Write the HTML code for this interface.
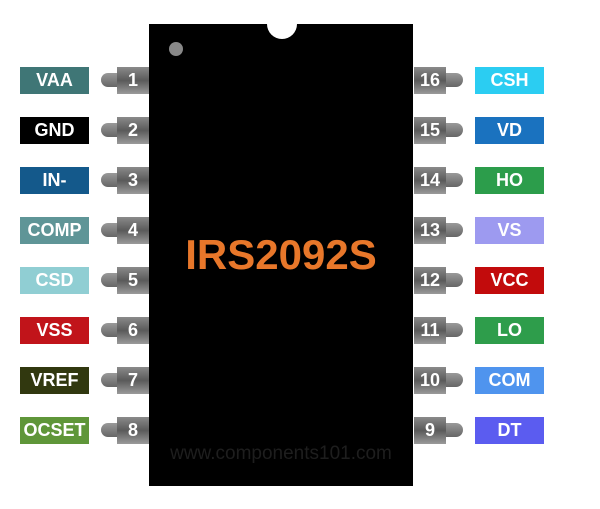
<!DOCTYPE html>
<html><head><meta charset="utf-8"><style>
body{margin:0;width:600px;height:509px;background:#fff;position:relative;overflow:hidden;font-family:"Liberation Sans",Arial,sans-serif;font-weight:bold}
.chip{position:absolute;left:149px;top:24px;width:264px;height:462px;background:#000}
.notch{position:absolute;left:267px;top:9px;width:30px;height:30px;border-radius:50%;background:#fff}
.dot{position:absolute;left:169px;top:42px;width:14px;height:14px;border-radius:50%;background:#888}
.lab{position:absolute;width:69px;height:27px;color:#fff;font-size:18px;line-height:27px;text-align:center}
.l{left:20px}.r{left:475px}
.pw{position:absolute;width:32px;height:27px;color:#fff;font-size:18px;line-height:27px;text-align:center}
.pl{left:117px;background:linear-gradient(#8a8a8a,#5a5a5a 50%,#9a9a9a)}
.pr{left:414px;background:linear-gradient(#8a8a8a,#5a5a5a 50%,#9a9a9a)}
.tab{position:absolute;width:17px;height:14px;background:linear-gradient(#999,#666)}
.tl{left:101px;border-radius:7px 0 0 7px}
.tr{left:446px;border-radius:0 7px 7px 0}
.title{position:absolute;left:149px;width:264px;top:231px;text-align:center;color:#e8772a;font-size:42px;line-height:48px}
.wm{position:absolute;left:149px;width:264px;top:443px;text-align:center;color:#1e1e1e;font-size:19px;font-weight:normal}
</style></head><body>
<div class="chip"></div><div class="notch"></div><div class="dot"></div>
<div class="title">IRS2092S</div>
<div class="wm">www.components101.com</div>

<div class="lab l" style="top:67px;background:#3f7676">VAA</div>
<div class="lab l" style="top:117px;background:#000">GND</div>
<div class="lab l" style="top:167px;background:#14598b">IN-</div>
<div class="lab l" style="top:217px;background:#5f9597">COMP</div>
<div class="lab l" style="top:267px;background:#90ced3">CSD</div>
<div class="lab l" style="top:317px;background:#c1141a">VSS</div>
<div class="lab l" style="top:367px;background:#31380f">VREF</div>
<div class="lab l" style="top:417px;background:#5f9639">OCSET</div>

<div class="tab tl" style="top:73px"></div><div class="pw pl" style="top:67px">1</div>
<div class="tab tl" style="top:123px"></div><div class="pw pl" style="top:117px">2</div>
<div class="tab tl" style="top:173px"></div><div class="pw pl" style="top:167px">3</div>
<div class="tab tl" style="top:223px"></div><div class="pw pl" style="top:217px">4</div>
<div class="tab tl" style="top:273px"></div><div class="pw pl" style="top:267px">5</div>
<div class="tab tl" style="top:323px"></div><div class="pw pl" style="top:317px">6</div>
<div class="tab tl" style="top:373px"></div><div class="pw pl" style="top:367px">7</div>
<div class="tab tl" style="top:423px"></div><div class="pw pl" style="top:417px">8</div>

<div class="tab tr" style="top:73px"></div><div class="pw pr" style="top:67px">16</div>
<div class="tab tr" style="top:123px"></div><div class="pw pr" style="top:117px">15</div>
<div class="tab tr" style="top:173px"></div><div class="pw pr" style="top:167px">14</div>
<div class="tab tr" style="top:223px"></div><div class="pw pr" style="top:217px">13</div>
<div class="tab tr" style="top:273px"></div><div class="pw pr" style="top:267px">12</div>
<div class="tab tr" style="top:323px"></div><div class="pw pr" style="top:317px">11</div>
<div class="tab tr" style="top:373px"></div><div class="pw pr" style="top:367px">10</div>
<div class="tab tr" style="top:423px"></div><div class="pw pr" style="top:417px">9</div>

<div class="lab r" style="top:67px;background:#2bcdf2">CSH</div>
<div class="lab r" style="top:117px;background:#1a72bf">VD</div>
<div class="lab r" style="top:167px;background:#2c9d4b">HO</div>
<div class="lab r" style="top:217px;background:#9d9af0">VS</div>
<div class="lab r" style="top:267px;background:#c20b0c">VCC</div>
<div class="lab r" style="top:317px;background:#2e9d4b">LO</div>
<div class="lab r" style="top:367px;background:#4f94ee">COM</div>
<div class="lab r" style="top:417px;background:#5b5cf0">DT</div>
</body></html>
